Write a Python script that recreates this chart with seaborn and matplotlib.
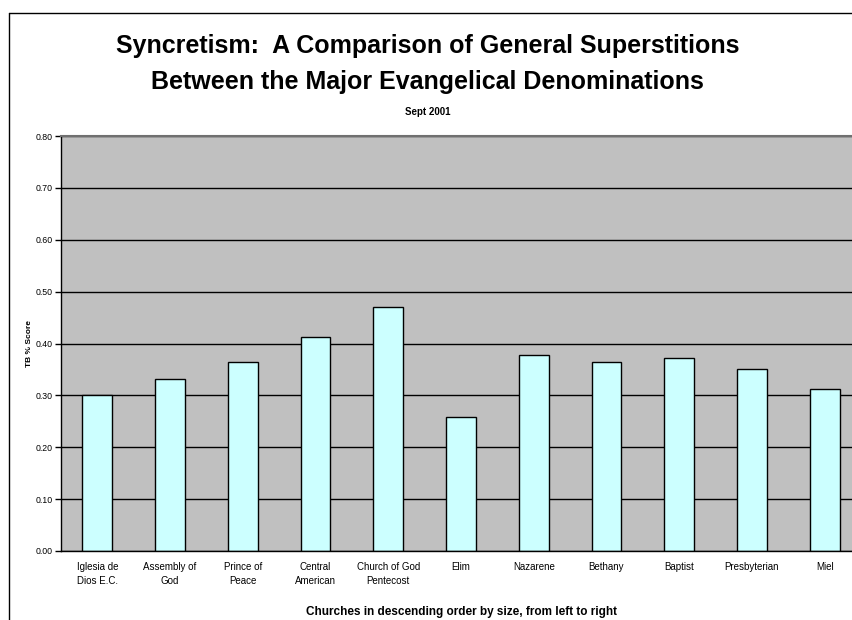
import matplotlib as mpl
mpl.use("Agg")
from matplotlib import pyplot as plt
from matplotlib.lines import Line2D
import seaborn as sns
import numpy as np
import pandas as pd

churches = ["Iglesia de\nDios E.C.", "Assembly of\nGod", "Prince of\nPeace", "Central\nAmerican",
            "Church of God\nPentecost", "Elim", "Nazarene", "Bethany", "Baptist", "Presbyterian", "Miel"]
scores = [0.300, 0.332, 0.364, 0.412, 0.470, 0.259, 0.378, 0.365, 0.373, 0.351, 0.312]
yticks = [0.0, 0.1, 0.2, 0.3, 0.4, 0.5, 0.6, 0.7, 0.8]

df = pd.DataFrame({"Church": churches, "Score": scores})

sns.set_style("white")
plt.rcParams["font.family"] = ["Liberation Sans", "DejaVu Sans"]
plt.rcParams["text.color"] = "black"
plt.rcParams["axes.labelcolor"] = "black"
plt.rcParams["xtick.color"] = "black"
plt.rcParams["ytick.color"] = "black"

fig = plt.figure(figsize=(8.53, 6.2), dpi=100)
ax = fig.add_axes([61/853, 1-551/620, 800/853, 415/620])
ax.set_facecolor("#C0C0C0")

sns.barplot(data=df, x="Church", y="Score", color="#CCFFFF", edgecolor="black",
            linewidth=1, width=0.41, saturation=1, ax=ax)

ax.set_xlim(-0.5, len(churches)-0.5)
ax.set_ylim(0, 0.8)
ax.set_yticks(yticks)
ax.set_yticklabels(["%.2f" % v for v in yticks], fontsize=6.3)
ax.yaxis.grid(True, color="black", lw=1)
ax.set_axisbelow(True)

ax.set_xticks(range(len(churches)))
ax.set_xticklabels(churches, fontsize=7, linespacing=1.5)
ax.set_xticks(np.arange(-0.5, len(churches), 1), minor=True)
ax.tick_params(axis="x", which="major", length=0, pad=8)
ax.tick_params(axis="x", which="minor", length=4, width=1, color="black", direction="out")
ax.tick_params(axis="y", length=4, width=1, color="black", direction="out", left=True, pad=2)

for s in ["left", "bottom"]:
    ax.spines[s].set_color("black")
    ax.spines[s].set_linewidth(1)
ax.spines["top"].set_color("#707070")
ax.spines["top"].set_linewidth(1.5)

ax.set_xlabel("Churches in descending order by size, from left to right",
              fontsize=8.5, fontweight="bold", labelpad=14)
ax.set_ylabel("TB % Score", fontsize=6, fontweight="bold", labelpad=2)

fig.text(0.501, 1-46/620, "Syncretism:  A Comparison of General Superstitions",
         ha="center", va="center", fontsize=18, fontweight="bold")
fig.text(0.501, 1-82/620, "Between the Major Evangelical Denominations",
         ha="center", va="center", fontsize=18, fontweight="bold")
fig.text(0.501, 1-112/620, "Sept 2001", ha="center", va="center",
         fontsize=7, fontweight="bold")

# chart frame
fig.add_artist(Line2D([9/853, 1], [1-13/620, 1-13/620], color="black", lw=1))
fig.add_artist(Line2D([9/853, 9/853], [0, 1-13/620], color="black", lw=1))

plt.savefig("out.png", dpi=100)
